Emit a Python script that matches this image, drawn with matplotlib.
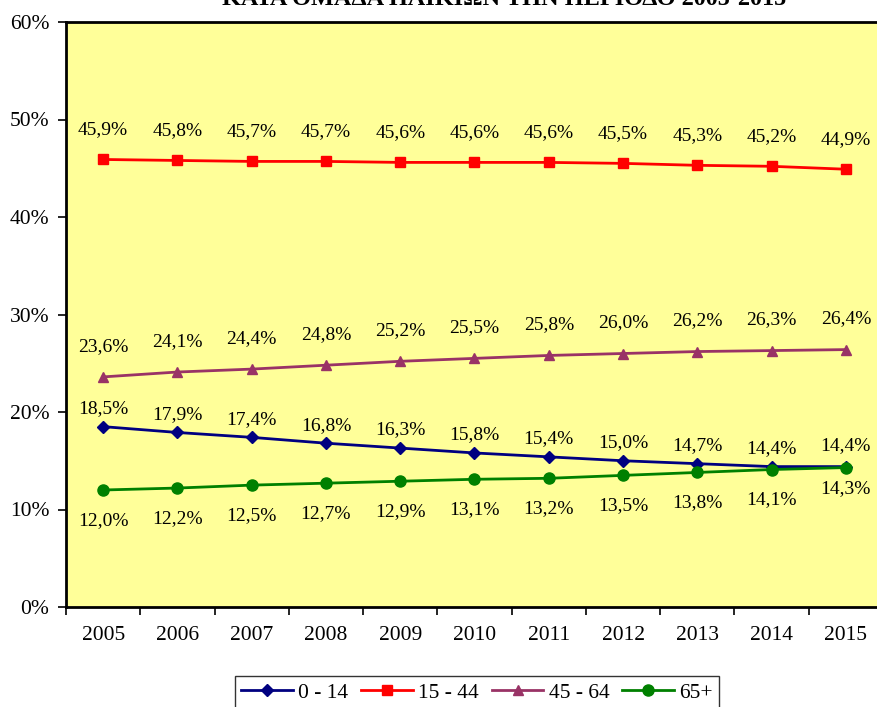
import matplotlib
matplotlib.use("Agg")
import matplotlib.pyplot as plt
import numpy as np

plt.rcParams['font.family'] = ['Liberation Serif', 'DejaVu Serif']

years = ['2005', '2006', '2007', '2008', '2009', '2010', '2011', '2012', '2013', '2014', '2015']
age_0_14 = [18.5, 17.9, 17.4, 16.8, 16.3, 15.8, 15.4, 15.0, 14.7, 14.4, 14.4]
age_15_44 = [45.9, 45.8, 45.7, 45.7, 45.6, 45.6, 45.6, 45.5, 45.3, 45.2, 44.9]
age_45_64 = [23.6, 24.1, 24.4, 24.8, 25.2, 25.5, 25.8, 26.0, 26.2, 26.3, 26.4]
age_65 = [12.0, 12.2, 12.5, 12.7, 12.9, 13.1, 13.2, 13.5, 13.8, 14.1, 14.3]
y_ticks = [0, 10, 20, 30, 40, 50, 60]

# name, values, colour, marker, marker size, label offset (points), last label offset
series = [
    ('0 - 14', age_0_14, '#000080', 'D', 6, 13, 15),
    ('15 - 44', age_15_44, '#FF0000', 's', 7, 21.5, 21.5),
    ('45 - 64', age_45_64, '#993366', '^', 7, 22, 22),
    ('65+', age_65, '#008000', 'o', 8, -22, -15),
]

fig = plt.figure(figsize=(8.78, 7.07), dpi=100)
ax = fig.add_axes([66 / 878, 100 / 707, 817 / 878, 585 / 707])
ax.set_facecolor('#FFFF99')

x = np.arange(len(years))
for name, vals, col, mk, ms, off, off_last in series:
    ax.plot(x, vals, color=col, marker=mk, markersize=ms, lw=2, label=name)
    for xi, v in zip(x, vals):
        o = off_last if xi == x[-1] else off
        ax.annotate(('%.1f%%' % v).replace('.', ','), (xi, v), xytext=(0, o),
                    textcoords='offset points', ha='center', va='center', fontsize=14)

ax.set_xlim(-0.5, len(years) - 0.5)
ax.set_ylim(0, 60)
ax.set_yticks(y_ticks)
ax.set_yticklabels(['%d%%' % t for t in y_ticks], fontsize=15.5)
ax.set_xticks(x)
ax.set_xticklabels(years, fontsize=15.5)
ax.set_xticks(np.arange(len(years) + 1) - 0.5, minor=True)
ax.tick_params(axis='x', which='major', length=0, pad=14)
ax.tick_params(axis='x', which='minor', length=6, width=1.2)
ax.tick_params(axis='y', length=6, width=1.2, pad=6)
for s in ax.spines.values():
    s.set_linewidth(2)
    s.set_color('black')

fig.text(504 / 878, 702 / 707, 'ΚΑΤΑ ΟΜΑΔΑ ΗΛΙΚΙΩΝ ΤΗΝ ΠΕΡΙΟΔΟ 2005-2015',
         ha='center', va='baseline', fontsize=17.5, fontweight='bold')

leg = fig.legend(loc='upper center', bbox_to_anchor=(477 / 878, 31 / 707), ncol=4,
                 fontsize=15.5, frameon=True, fancybox=False, handlelength=2.4,
                 columnspacing=0.6, handletextpad=0.25, borderpad=0.3,
                 borderaxespad=0)
leg.get_frame().set_edgecolor('black')
leg.get_frame().set_linewidth(1)

fig.savefig('out.png', dpi=100)
